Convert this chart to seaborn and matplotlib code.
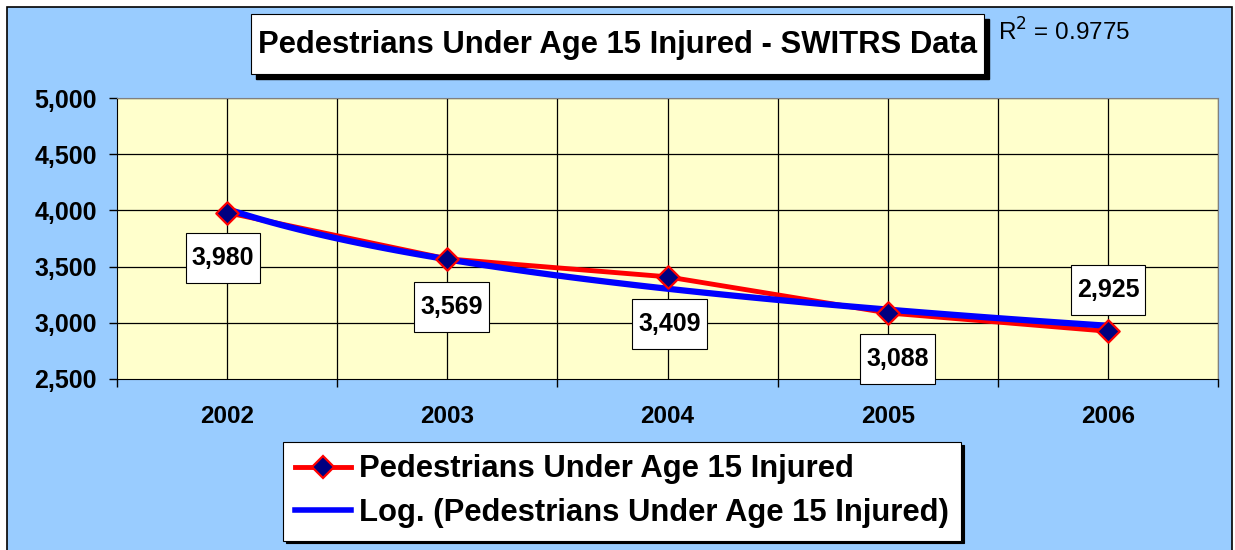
"""
Pedestrians under age 15 injured (SWITRS data), 2002-2006,
with a logarithmic trend line.
"""

import numpy as np
import pandas as pd
import matplotlib
matplotlib.use("Agg")
import matplotlib.pyplot as plt
from matplotlib.patches import Rectangle
from matplotlib.path import Path
from matplotlib.lines import Line2D
from matplotlib.ticker import FuncFormatter, MultipleLocator
import seaborn as sns

# data
years = ["2002", "2003", "2004", "2005", "2006"]
injured = [3980, 3569, 3409, 3088, 2925]
r_squared = "0.9775"

title = "Pedestrians Under Age 15 Injured - SWITRS Data"
series_label = "Pedestrians Under Age 15 Injured"
trend_label = "Log. (Pedestrians Under Age 15 Injured)"

# label offsets in pixels (dx, dy) relative to each point
label_offsets = [(-4, -45), (4, -48), (2, -47), (10, -46), (0, 41)]

W, H = 1235, 550
BLUE_BG = "#99CCFF"
PLOT_BG = "#FFFFCC"
NAVY = "#000080"


def px(x, y):
    """Pixel coordinates (from top-left) -> figure fraction."""
    return x / W, 1 - y / H


def label_box(x0, y0, width, height, mutation_size):
    """Square box, narrow sideways and tall, like the Excel data labels."""
    padx = 0.24 * mutation_size
    pady = 0.52 * mutation_size
    x0, y0 = x0 - padx, y0 - pady
    x1, y1 = x0 + width + 2 * padx, y0 + height + 2 * pady
    return Path([(x0, y0), (x1, y0), (x1, y1), (x0, y1), (x0, y0)],
                closed=True)


def main():
    plt.rcParams["font.family"] = ["Liberation Sans", "DejaVu Sans"]

    df = pd.DataFrame({"x": np.arange(1, len(years) + 1), "injured": injured})

    fig = plt.figure(figsize=(W / 100, H / 100), dpi=100)
    fig.patch.set_facecolor("white")

    # outer chart area with black border
    fig.patches.append(Rectangle(px(7, 560), (1232 - 7) / W, (560 - 7) / H,
                                 transform=fig.transFigure, facecolor=BLUE_BG,
                                 edgecolor="black", linewidth=1.2, zorder=-5))

    left, top = px(117, 98)
    right, bottom = px(1218, 379)
    ax = fig.add_axes([left, bottom, right - left, top - bottom])
    ax.set_facecolor(PLOT_BG)

    # data series line
    sns.lineplot(data=df, x="x", y="injured", ax=ax, color="red",
                 linewidth=3.5, zorder=3)
    # logarithmic trend line
    sns.regplot(data=df, x="x", y="injured", ax=ax, logx=True, ci=None,
                scatter=False, truncate=True,
                line_kws={"color": "#0000FF", "linewidth": 4.5, "zorder": 4})
    # diamond markers on top
    sns.scatterplot(data=df, x="x", y="injured", ax=ax, marker="D", s=130,
                    color=NAVY, edgecolor="red", linewidth=1.6, zorder=5)

    ax.set_xlim(0.5, len(years) + 0.5)
    ax.set_ylim(2500, 5000)
    ax.yaxis.set_major_locator(MultipleLocator(500))
    ax.yaxis.set_major_formatter(FuncFormatter(lambda v, p: f"{int(v):,}"))
    ax.set_xticks(df["x"])
    ax.set_xticklabels(years)
    ax.set_xticks(np.arange(0.5, len(years) + 1, 1.0), minor=True)
    ax.set_xlabel("")
    ax.set_ylabel("")

    ax.tick_params(axis="y", direction="out", length=6, width=1, pad=8.5,
                   labelsize=18)
    ax.tick_params(axis="x", which="major", length=0, pad=19, labelsize=17.5)
    ax.tick_params(axis="x", which="minor", direction="out", length=6, width=1)
    for lbl in ax.get_yticklabels() + ax.get_xticklabels():
        lbl.set_fontweight("bold")

    # grid at every half category and every 500
    ax.grid(False)
    for xv in np.arange(1.0, len(years) + 0.6, 0.5):
        ax.axvline(xv, color="black", linewidth=0.9, zorder=1)
    for yv in np.arange(3000, 5001, 500):
        ax.axhline(yv, color="black", linewidth=0.9, zorder=1)

    for side in ["top", "right"]:
        ax.spines[side].set_color("#808080")
    for side in ["left", "bottom"]:
        ax.spines[side].set_color("black")

    # data labels
    for xv, val, (dx, dy) in zip(df["x"], injured, label_offsets):
        ax.annotate(f"{val:,}", (xv, val), xytext=(dx, dy),
                    textcoords="offset pixels", ha="center", va="center",
                    fontsize=18, fontweight="bold", zorder=6,
                    bbox=dict(boxstyle=label_box, facecolor="white",
                              edgecolor="black", linewidth=0.8))

    # title box with shadow
    fig.patches.append(Rectangle(px(256, 79), (989 - 256) / W, (79 - 19) / H,
                                 transform=fig.transFigure, facecolor="black",
                                 edgecolor="black", zorder=1))
    fig.patches.append(Rectangle(px(251, 74), (984 - 251) / W, (74 - 14) / H,
                                 transform=fig.transFigure, facecolor="white",
                                 edgecolor="black", linewidth=0.8, zorder=2))
    fig.text(*px(618, 45), title, ha="center", va="center", fontsize=22.3,
             fontweight="bold", zorder=3)

    fig.text(*px(998, 32), f"R$^2$ = {r_squared}", ha="left", va="center",
             fontsize=17.5)

    # legend
    handles = [
        Line2D([], [], color="red", linewidth=3.5, marker="D", markersize=11,
               markerfacecolor=NAVY, markeredgecolor="red",
               markeredgewidth=1.6),
        Line2D([], [], color="#0000FF", linewidth=4),
    ]
    leg = ax.legend(handles, [series_label, trend_label], loc="upper left",
                    bbox_to_anchor=px(283, 442), bbox_transform=fig.transFigure,
                    borderaxespad=0, fancybox=False, framealpha=1,
                    edgecolor="black", facecolor="white",
                    shadow={"facecolor": "black", "edgecolor": "black",
                            "alpha": 1},
                    prop={"size": 22.3, "weight": "bold"}, handlelength=1.8,
                    handletextpad=0.26, borderpad=0.4, labelspacing=0.45)
    leg.get_frame().set_linewidth(0.8)

    fig.savefig("out.png", dpi=100)


if __name__ == "__main__":
    main()
